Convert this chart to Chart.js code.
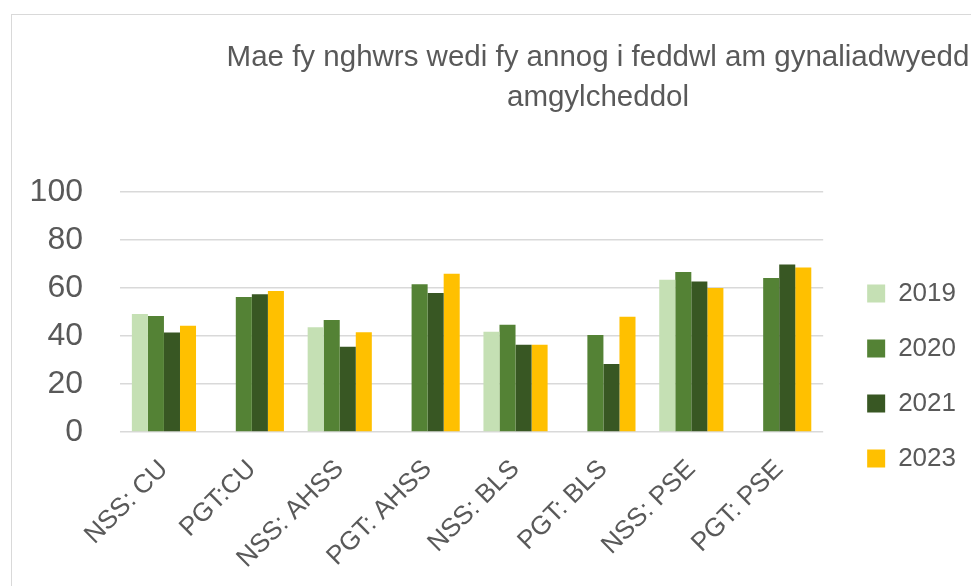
<!DOCTYPE html>
<html>
<head>
<meta charset="utf-8">
<script src="https://cdn.jsdelivr.net/npm/chart.js@4/dist/chart.umd.min.js"></script>
<style>
  html, body { margin: 0; padding: 0; background: #ffffff; overflow: hidden; }
  #frame {
    position: absolute; left: 11px; top: 14px; width: 1000px; height: 600px;
    border-left: 1.5px solid #d9d9d9; border-top: 1.5px solid #d9d9d9;
  }
  #wrap { position: absolute; left: 0; top: 0; width: 971px; height: 586px; }
</style>
</head>
<body>
<div id="frame"></div>
<div id="wrap"><canvas id="chart"></canvas></div>
<script>
const categories = ['NSS: CU', 'PGT:CU', 'NSS: AHSS', 'PGT: AHSS', 'NSS: BLS', 'PGT: BLS', 'NSS: PSE', 'PGT: PSE'];
const titleLines = ['Mae fy nghwrs wedi fy annog i feddwl am gynaliadwyedd', 'amgylcheddol'];
const seriesNames = ['2019', '2020', '2021', '2023'];
const values2019 = [49.2, null, 43.6, null, 41.8, null, 63.4, null];
const values2020 = [48.3, 56.3, 46.7, 61.6, 44.7, 40.4, 66.7, 64.2];
const values2021 = [41.5, 57.4, 35.5, 57.9, 36.4, 28.3, 62.7, 69.8];
const values2023 = [44.3, 58.8, 41.6, 65.9, 36.4, 48.0, 60.0, 68.5];
const yTicks = [0, 20, 40, 60, 80, 100];

const seriesColors = ['#C5E0B4', '#548235', '#385723', '#FFC000'];
const textColor = '#595959';
const fontFamily = '"Liberation Sans", Arial, sans-serif';

// title drawn by hand so it can sit off-centre like the original
const titlePlugin = {
    id: 'splitTitle',
    afterDraw(chart) {
        const ctx = chart.ctx;
        ctx.save();
        ctx.font = '29.5px ' + fontFamily;
        ctx.fillStyle = textColor;
        ctx.textAlign = 'center';
        ctx.textBaseline = 'middle';
        titleLines.forEach((line, i) => ctx.fillText(line, 598, 58 + i * 40));
        ctx.restore();
    }
};

// nudge the legend a little away from the plot, as in the original
const legendShift = {
    id: 'legendShift',
    afterLayout(chart) {
        const lg = chart.legend;
        if (!lg) return;
        lg.left += 15; lg.right += 15;
        lg.top -= 13; lg.bottom -= 13;
    }
};

const allValues = [values2019, values2020, values2021, values2023];

const ctx = document.getElementById('chart');
new Chart(ctx, {
    type: 'bar',
    data: {
        labels: categories,
        datasets: seriesNames.map((name, i) => ({
            label: name,
            data: allValues[i],
            backgroundColor: seriesColors[i],
            borderWidth: 0,
            categoryPercentage: 0.73,
            barPercentage: 1.0
        }))
    },
    options: {
        responsive: true,
        maintainAspectRatio: false,
        animation: false,
        layout: {
            padding: { top: 192, left: 30, right: 20, bottom: 0 }
        },
        scales: {
            y: {
                min: 0,
                max: 100,
                afterBuildTicks: axis => { axis.ticks = yTicks.map(v => ({ value: v })); },
                afterFit: axis => { axis.width = 90; },
                border: { display: false },
                grid: { color: '#d9d9d9', lineWidth: 1.5, drawTicks: false },
                ticks: {
                    color: textColor,
                    padding: 37,
                    font: { family: fontFamily, size: 32 }
                }
            },
            x: {
                afterFit: axis => { axis.height = 154; },
                border: { display: false },
                grid: { display: false },
                ticks: {
                    color: textColor,
                    padding: 14,
                    maxRotation: 45,
                    minRotation: 45,
                    font: { family: fontFamily, size: 26 }
                }
            }
        },
        plugins: {
            title: { display: false },
            tooltip: { enabled: false },
            legend: {
                position: 'right',
                labels: {
                    color: textColor,
                    boxWidth: 18,
                    boxHeight: 18,
                    padding: 29,
                    font: { family: fontFamily, size: 26 }
                }
            }
        }
    },
    plugins: [titlePlugin, legendShift]
});
</script>
</body>
</html>
